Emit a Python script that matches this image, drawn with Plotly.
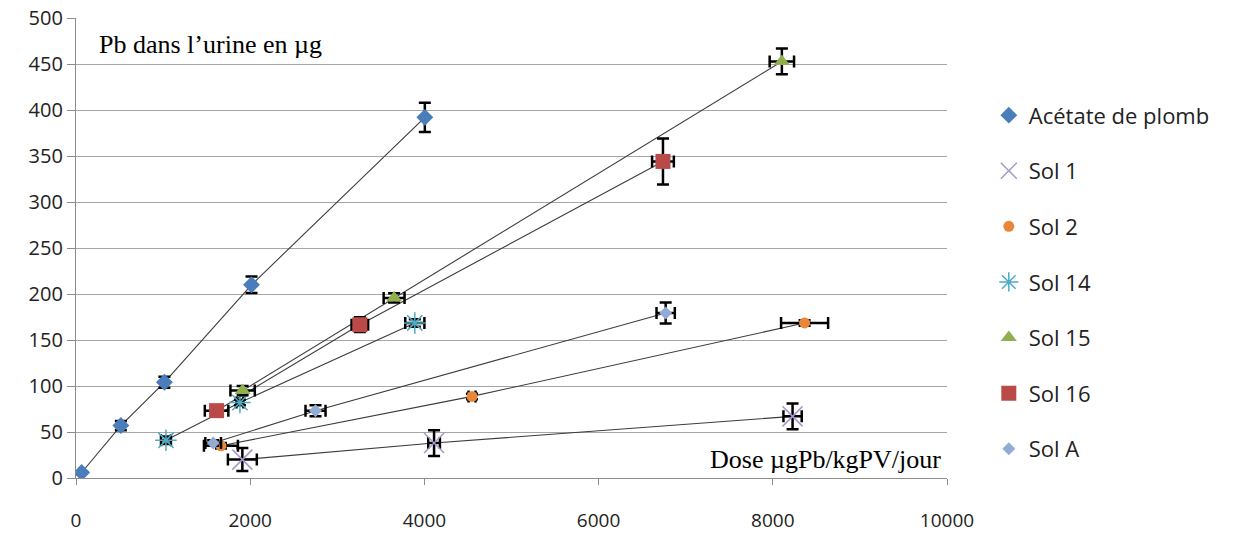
import plotly.graph_objects as go

# Data (x: dose µgPb/kgPV/jour, y: Pb dans l'urine µg, with error bars)
acetate_x = [65, 515, 1015, 2015, 4005]
acetate_y = [6, 57, 104, 210, 392]
acetate_ex = [0, 0, 0, 0, 0]
acetate_ey = [0, 5, 6, 9, 16]

sol1_x = [1910, 4111, 8227]
sol1_y = [20, 38, 67]
sol1_ex = [166, 67, 105]
sol1_ey = [12.5, 14, 14]

sol2_x = [1664, 4547, 8365]
sol2_y = [35, 88.7, 168.5]
sol2_ex = [195, 40, 270]
sol2_ey = [3, 3, 3]

sol14_x = [1033, 1882, 3890]
sol14_y = [41, 82, 168.5]
sol14_ex = [57, 40, 110]
sol14_ey = [4, 3, 4]

sol15_x = [1913, 3652, 8104]
sol15_y = [95, 195.7, 452.8]
sol15_ex = [140, 120, 140]
sol15_ey = [5, 5, 14]

sol16_x = [1614, 3259, 6739]
sol16_y = [73.2, 166.6, 344.1]
sol16_ex = [135, 95, 125]
sol16_ey = [4, 8, 25]

solA_x = [1575, 2750, 6770]
solA_y = [38, 73.2, 179.3]
solA_ex = [90, 115, 105]
solA_ey = [3, 6, 11.5]

x_ticks = [0, 2000, 4000, 6000, 8000, 10000]
y_ticks = [0, 50, 100, 150, 200, 250, 300, 350, 400, 450, 500]

series = [
    ("Acétate de plomb", acetate_x, acetate_y, acetate_ex, acetate_ey,
     dict(symbol="diamond", size=13, color="#4a7ebb")),
    ("Sol 1", sol1_x, sol1_y, sol1_ex, sol1_ey,
     dict(symbol="x-thin-open", size=20, color="#a797c9", line=dict(color="#a797c9", width=1.5))),
    ("Sol 2", sol2_x, sol2_y, sol2_ex, sol2_ey,
     dict(symbol="circle", size=11, color="#e8873a")),
    ("Sol 14", sol14_x, sol14_y, sol14_ex, sol14_ey,
     dict(symbol="asterisk-open", size=18, color="#4bacc6", line=dict(color="#4bacc6", width=1.5))),
    ("Sol 15", sol15_x, sol15_y, sol15_ex, sol15_ey,
     dict(symbol="triangle-up", size=14, color="#8fb04d")),
    ("Sol 16", sol16_x, sol16_y, sol16_ex, sol16_ey,
     dict(symbol="square", size=15, color="#b94a48")),
    ("Sol A", solA_x, solA_y, solA_ex, solA_ey,
     dict(symbol="diamond", size=10, color="#93acd6")),
]

fig = go.Figure()

# connecting lines (no legend)
for name, xs, ys, ex, ey, mk in series:
    fig.add_trace(go.Scatter(x=xs, y=ys, mode="lines",
                             line=dict(color="#3c3c3c", width=1.1),
                             showlegend=False, hoverinfo="skip"))

# markers with error bars
for i, (name, xs, ys, ex, ey, mk) in enumerate(series):
    fig.add_trace(go.Scatter(
        x=xs, y=ys, mode="markers", name=name, legendgroup=f"g{i}",
        marker=mk,
        error_x=dict(type="data", array=ex, symmetric=True, visible=True,
                     color="black", thickness=2.5, width=6),
        error_y=dict(type="data", array=ey, symmetric=True, visible=True,
                     color="black", thickness=2.5, width=6),
    ))

fig.update_layout(
    width=1238, height=537,
    margin=dict(l=76, r=290.5, t=18.3, b=58.7, autoexpand=False),
    paper_bgcolor="white", plot_bgcolor="white",
    font=dict(family="Open Sans", size=19, color="#222222"),
    showlegend=True,
    legend=dict(x=1.048, xanchor="left", y=0.834, yanchor="top",
                font=dict(family="Open Sans", size=22, color="#222222"),
                tracegroupgap=24, itemwidth=30, bgcolor="rgba(0,0,0,0)"),
    xaxis=dict(range=[0, 10000], tickvals=x_ticks, ticktext=[str(v) for v in x_ticks],
               showgrid=False, zeroline=False, showline=True, linecolor="#8c8c8c",
               linewidth=1.2, ticks="outside", ticklen=6, tickcolor="#8c8c8c",
               ticklabelstandoff=19, automargin=False, ticklabeloverflow="allow"),
    yaxis=dict(range=[0, 500], tickvals=y_ticks, ticktext=[str(v) for v in y_ticks],
               showgrid=True, gridcolor="#a6a6a6", gridwidth=1.2, zeroline=False,
               showline=True, linecolor="#8c8c8c", linewidth=1.2,
               ticks="outside", ticklen=8, tickcolor="#8c8c8c",
               tickfont=dict(size=20), automargin=False, ticklabeloverflow="allow"),
    annotations=[
        dict(text="Pb dans l’urine en µg", xref="paper", yref="paper",
             x=0.024, y=0.942, xanchor="left", yanchor="middle", showarrow=False,
             font=dict(family="Liberation Serif", size=26, color="black")),
        dict(text="Dose µgPb/kgPV/jour", xref="paper", yref="paper",
             x=0.995, y=0.04, xanchor="right", yanchor="middle", showarrow=False,
             font=dict(family="Liberation Serif", size=26, color="black")),
    ],
)

fig.write_html("out.html", config={"displayModeBar": False},
               post_script="document.body.style.margin='0';")
